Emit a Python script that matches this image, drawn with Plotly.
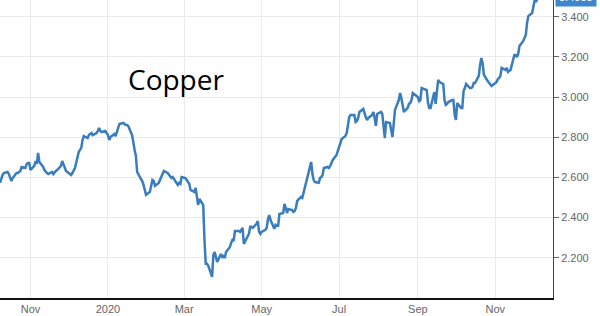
import pandas as pd
import plotly.graph_objects as go

start_date = "2019-10-08"
values = [
    2.573, 2.597, 2.612, 2.622, 2.627, 2.617, 2.597, 2.582, 2.597, 2.622,
    2.622, 2.627, 2.632, 2.652, 2.647, 2.667, 2.672, 2.672, 2.637, 2.657,
    2.682, 2.667, 2.722, 2.677, 2.652, 2.637, 2.627, 2.622, 2.617, 2.627,
    2.617, 2.627, 2.632, 2.637, 2.657, 2.682, 2.667, 2.647, 2.632, 2.617,
    2.612, 2.622, 2.637, 2.647, 2.727, 2.737, 2.747, 2.786, 2.806, 2.796,
    2.811, 2.816, 2.821, 2.811, 2.821, 2.831, 2.846, 2.831, 2.826, 2.831,
    2.821, 2.811, 2.786, 2.801, 2.816, 2.806, 2.826, 2.846, 2.866, 2.871,
    2.866, 2.861, 2.861, 2.856, 2.811, 2.782, 2.737, 2.707, 2.627, 2.592,
    2.582, 2.563, 2.543, 2.513, 2.528, 2.558, 2.587, 2.582, 2.558, 2.573,
    2.587, 2.602, 2.612, 2.632, 2.622, 2.612, 2.607, 2.597, 2.602, 2.577,
    2.563, 2.573, 2.568, 2.602, 2.597, 2.587, 2.577, 2.568, 2.538, 2.528,
    2.548, 2.508, 2.463, 2.493, 2.463, 2.289, 2.170, 2.170, 2.160, 2.105,
    2.214, 2.229, 2.204, 2.180, 2.219, 2.204, 2.209, 2.199, 2.229, 2.254,
    2.274, 2.289, 2.284, 2.334, 2.334, 2.329, 2.339, 2.349, 2.269, 2.304,
    2.319, 2.354, 2.354, 2.349, 2.369, 2.383, 2.329, 2.319, 2.329, 2.339,
    2.349, 2.393, 2.413, 2.388, 2.344, 2.364, 2.359, 2.359, 2.418, 2.423,
    2.468, 2.448, 2.423, 2.443, 2.438, 2.428, 2.433, 2.448, 2.483, 2.503,
    2.498, 2.523, 2.548, 2.582, 2.647, 2.677, 2.617, 2.587, 2.577, 2.573,
    2.597, 2.602, 2.612, 2.647, 2.652, 2.647, 2.657, 2.672, 2.687, 2.712,
    2.732, 2.747, 2.772, 2.791, 2.806, 2.821, 2.861, 2.901, 2.911, 2.911,
    2.876, 2.881, 2.896, 2.926, 2.941, 2.916, 2.901, 2.886, 2.896, 2.911,
    2.926, 2.896, 2.856, 2.916, 2.926, 2.916, 2.861, 2.796, 2.876, 2.871,
    2.836, 2.801, 2.866, 2.936, 2.985, 3.020, 2.995, 2.956, 2.926, 2.946,
    2.966, 2.970, 2.985, 3.020, 3.005, 3.000, 2.980, 2.985, 3.045, 3.035,
    3.035, 2.970, 2.946, 2.946, 3.025, 2.966, 3.015, 3.085, 3.075, 3.065,
    2.985, 2.961, 2.966, 2.975, 2.985, 2.985, 2.911, 2.886, 2.970, 2.946,
    2.946, 3.030, 3.045, 3.065, 3.045, 3.045, 3.050, 3.070, 3.070, 3.105,
    3.160, 3.194, 3.169, 3.110, 3.080, 3.070, 3.060, 3.055, 3.060, 3.075,
    3.090, 3.095, 3.105, 3.145, 3.135, 3.145, 3.125, 3.130, 3.135, 3.209,
    3.209, 3.199, 3.214, 3.254, 3.279, 3.294, 3.309, 3.369, 3.403, 3.418,
    3.463, 3.483, 3.473, 3.488, 3.4958,
]
dates = pd.bdate_range(start_date, periods=len(values))

x_tick_dates = ["2019-11-01", "2020-01-01", "2020-03-01", "2020-05-01",
                "2020-07-01", "2020-09-01", "2020-11-01"]
x_tick_labels = ["Nov", "2020", "Mar", "May", "Jul", "Sep", "Nov"]
y_tick_values = [2.2, 2.4, 2.6, 2.8, 3.0, 3.2, 3.4]
y_min, y_max = 2.0, 3.483
last_label = "3.4958"
title_text = "Copper"

fig = go.Figure()
fig.add_trace(go.Scatter(
    x=dates, y=values, mode="lines",
    line=dict(color="#3a7dbd", width=2.5),
    hoverinfo="skip",
))

last_frac = (values[-1] - y_min) / (y_max - y_min)

fig.update_layout(
    width=600, height=316,
    margin=dict(l=0, r=47, t=0, b=18),
    plot_bgcolor="white", paper_bgcolor="white",
    showlegend=False,
    xaxis=dict(
        range=["2019-10-08", "2020-12-16 10:00"],
        tickvals=x_tick_dates, ticktext=x_tick_labels,
        showgrid=True, gridcolor="#ebebeb", gridwidth=1,
        showline=True, linecolor="#111", linewidth=1.5,
        ticks="", tickfont=dict(family="Liberation Sans, Arial", size=11, color="#666"),
        zeroline=False,
    ),
    yaxis=dict(
        side="right", range=[y_min, y_max],
        tickvals=y_tick_values, tickformat=".3f",
        showgrid=True, gridcolor="#ebebeb", gridwidth=1,
        showline=True, linecolor="#444", linewidth=1,
        ticks="outside", ticklen=5, tickcolor="#666",
        tickfont=dict(family="Liberation Sans, Arial", size=11, color="#666"),
        zeroline=False,
    ),
    annotations=[
        dict(text=title_text, xref="paper", yref="paper", x=0.318, y=0.735,
             xanchor="center", yanchor="middle", showarrow=False,
             font=dict(family="Open Sans", size=28, color="#000")),
        dict(text=last_label, xref="paper", yref="paper", x=1, y=last_frac,
             xanchor="left", yanchor="middle", xshift=2, showarrow=False,
             bgcolor="#3d87cc", font=dict(family="Liberation Sans, Arial", size=11, color="white"),
             borderpad=3),
    ],
)

fig.write_html("out.html")
